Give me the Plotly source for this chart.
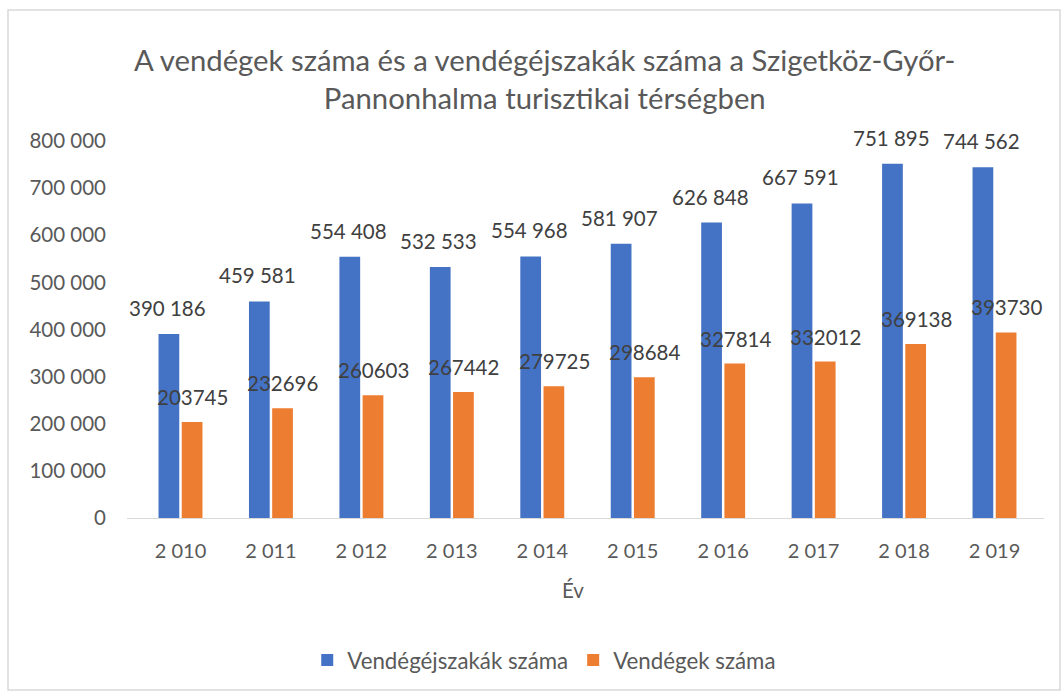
import plotly.graph_objects as go

years = ["2 010", "2 011", "2 012", "2 013", "2 014", "2 015", "2 016", "2 017", "2 018", "2 019"]
nights = [390186, 459581, 554408, 532533, 554968, 581907, 626848, 667591, 751895, 744562]
guests = [203745, 232696, 260603, 267442, 279725, 298684, 327814, 332012, 369138, 393730]
y_ticks = [0, 100000, 200000, 300000, 400000, 500000, 600000, 700000, 800000]

FONT = "Lato"
GREY = "#595959"
BLUE = "#4472C4"
ORANGE = "#ED7D31"

fig = go.Figure()
fig.add_trace(go.Bar(x=years, y=nights, name="Vendégéjszakák száma",
                     marker=dict(color=BLUE, line=dict(width=0))))
fig.add_trace(go.Bar(x=years, y=guests, name="Vendégek száma",
                     marker=dict(color=ORANGE, line=dict(width=0))))

annotations = []
for yr, v in zip(years, nights):
    annotations.append(dict(x=yr, y=v, xref="x", yref="y", text=f"{v:,}".replace(",", " "),
                            showarrow=False, xshift=-13, yshift=26, yanchor="middle",
                            font=dict(family=FONT, size=20.5, color="#404040")))
for yr, v in zip(years, guests):
    annotations.append(dict(x=yr, y=v, xref="x", yref="y", text=str(v),
                            showarrow=False, xshift=12, yshift=25, yanchor="middle",
                            font=dict(family=FONT, size=20.5, color="#404040")))
annotations.append(dict(x=0.486, y=-0.191, xref="paper", yref="paper", text="Év",
                        showarrow=False, xanchor="center", yanchor="middle",
                        font=dict(family=FONT, size=20.5, color=GREY)))

fig.update_layout(
    width=1064, height=693,
    margin=dict(l=127, r=20, t=141, b=175, autoexpand=False),
    paper_bgcolor="white", plot_bgcolor="white",
    barmode="group", bargap=0.487, bargroupgap=0.106,
    separators=", ",
    font=dict(family=FONT, color=GREY, size=20),
    title=dict(text="A vendégek száma és a vendégéjszakák száma a Szigetköz-Győr-<br>Pannonhalma turisztikai térségben",
               x=0.512, xanchor="center", y=1 - 71 / 693, yanchor="middle", yref="container",
               font=dict(family=FONT, size=29.3, color=GREY)),
    xaxis=dict(showgrid=False, showline=True, linecolor="#D9D9D9", linewidth=1, automargin=False,
               ticks="", ticklabelstandoff=15, tickfont=dict(family=FONT, size=20, color=GREY)),
    yaxis=dict(range=[0, 800000], tickvals=y_ticks, tickformat=",d", showgrid=False, automargin=False,
               zeroline=False, showline=False, ticks="", ticklabelstandoff=20,
               tickfont=dict(family=FONT, size=20.5, color=GREY)),
    legend=dict(orientation="h", x=0.455, xanchor="center", y=-0.377, yanchor="middle",
                font=dict(family=FONT, size=22.3, color=GREY), itemwidth=30,
                traceorder="normal"),
    annotations=annotations,
    shapes=[dict(type="rect", xref="paper", yref="paper",
                 x0=(8 - 127) / 917, x1=(1060 - 127) / 917,
                 y0=(518 - 690) / 377, y1=(518 - 10) / 377,
                 line=dict(color="#D9D9D9", width=1.5), fillcolor="rgba(0,0,0,0)", layer="below")],
)

fig.write_html("out.html", config={"displayModeBar": False},
               post_script="document.body.style.margin='0';")
